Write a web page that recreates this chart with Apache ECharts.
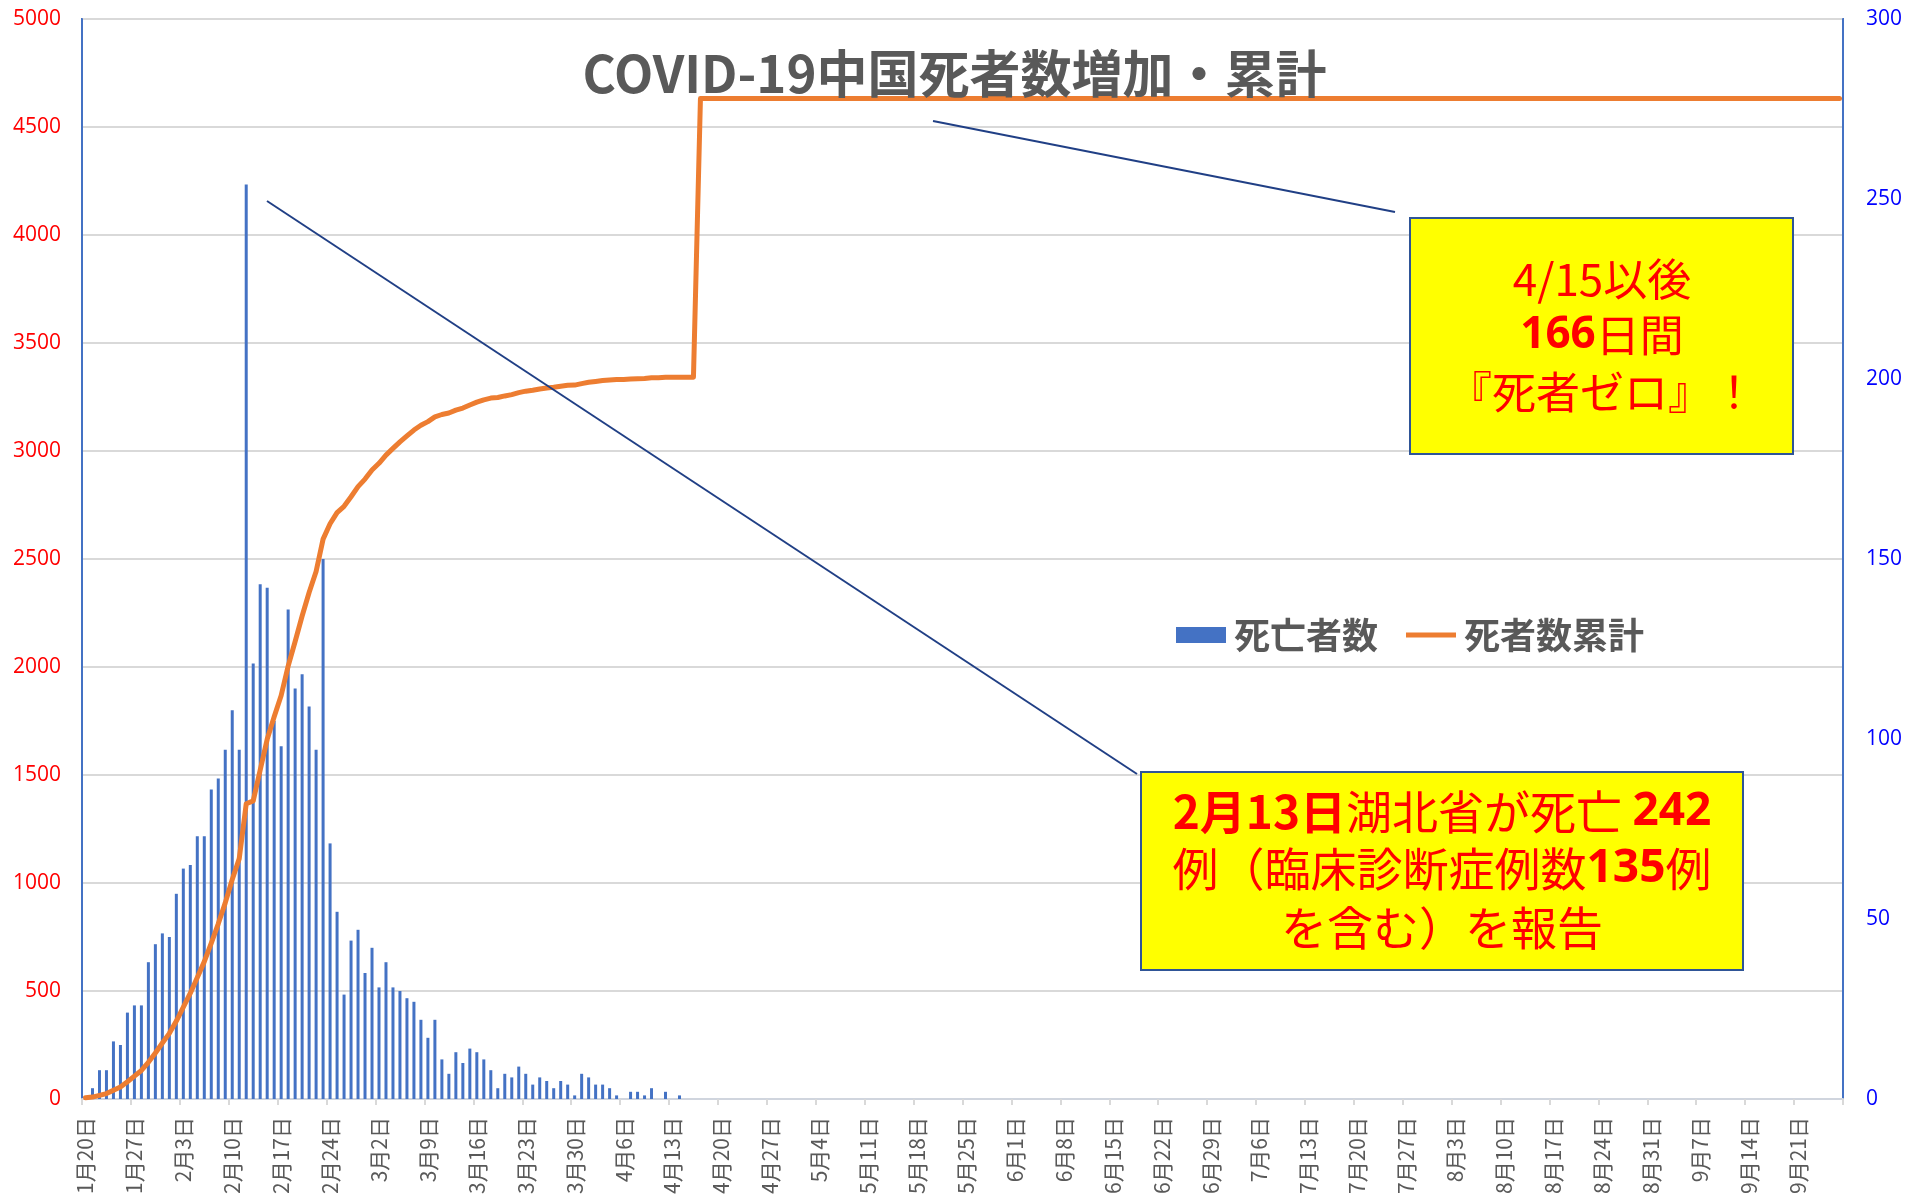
<!DOCTYPE html>
<html lang="ja">
<head>
<meta charset="UTF-8">
<title>COVID-19中国死者数増加・累計</title>
<script src="https://cdn.jsdelivr.net/npm/echarts@6/dist/echarts.min.js"></script>
<style>
  html, body { margin: 0; padding: 0; background: #fff; }
  #main { width: 1909px; height: 1201px; }
</style>
</head>
<body>
<div id="main"></div>
<script type="text/javascript">
// 日付ラベル 1月20日 ～ 9月27日 (2020年)
var monthSpans = [[1, 20, 31], [2, 1, 29], [3, 1, 31], [4, 1, 30], [5, 1, 31],
                  [6, 1, 30], [7, 1, 31], [8, 1, 31], [9, 1, 27]];
var dates = [];
monthSpans.forEach(function (s) {
    for (var d = s[1]; d <= s[2]; d++) dates.push(s[0] + '月' + d + '日');
});

// 死亡者数 (日別) 1/20 ～ 4/16
var dailyDeaths = [
    0, 3, 8, 8, 16, 15, 24, 26, 26, 38, 43, 46,
    45, 57, 64, 65, 73, 73, 86, 89, 97, 108, 97, 254, 121, 143, 142, 105, 98, 136,
    114, 118, 109, 97, 150, 71, 52, 29, 44, 47, 35,
    42, 31, 38, 31, 30, 28, 27, 22, 17, 22, 11, 7, 13, 10, 14, 13, 11, 8, 3, 7,
    6, 9, 7, 4, 6, 5, 3, 5, 4, 1, 7,
    6, 4, 4, 3, 1, 0, 2, 2, 1, 3, 0, 2, 0, 1, 0, 0
];

// 死者数累計 1/20 ～ 4/17
var cumDeaths = [
    6, 9, 17, 25, 41, 56, 80, 106, 132, 170, 213, 259,
    304, 361, 425, 490, 563, 636, 722, 811, 908, 1016, 1113, 1367, 1380, 1523, 1665,
    1770, 1868, 2004, 2118, 2236, 2345, 2442, 2592, 2663, 2715, 2744, 2788, 2835, 2870,
    2912, 2943, 2981, 3012, 3042, 3070, 3097, 3119, 3136, 3158, 3169, 3176, 3189, 3199,
    3213, 3226, 3237, 3245, 3248, 3255, 3261, 3270, 3277, 3281, 3287, 3292, 3295, 3300,
    3304, 3305, 3312,
    3318, 3322, 3326, 3329, 3331, 3331, 3333, 3335, 3336, 3339, 3339, 3341, 3341, 3342,
    3342, 3342, 4632
];
// 4/17以後 9/27まで横ばい
var cumLastDate = '9月27日';
var cumLastValue = 4632;

var leftTicks = { min: 0, max: 5000, interval: 500 };
var rightTicks = { min: 0, max: 300, interval: 50 };

var cumData = cumDeaths.map(function (v, i) { return [dates[i], v]; });
cumData.push([cumLastDate, cumLastValue]);

var FONT = '"Noto Sans CJK JP", "Noto Sans", sans-serif';
var NUMFONT = '"Open Sans", "Noto Sans", sans-serif';

function plain(v) { return String(v); }

var richBox = function (size) {
    return {
        b: { fill: '#FF0000', fontSize: size, fontWeight: 'bold', fontFamily: NUMFONT },
        bj: { fill: '#FF0000', fontSize: size, fontWeight: 'bold', fontFamily: FONT },
        n: { fill: '#FF0000', fontSize: size, fontFamily: FONT }
    };
};

var myChart = echarts.init(document.getElementById('main'));
var option = {
    animation: false,
    title: {
        text: 'COVID-19中国死者数増加・累計',
        left: 'center',
        top: 43,
        textStyle: { fontSize: 51, fontWeight: 'bold', color: '#595959', fontFamily: FONT }
    },
    legend: {
        left: 1171,
        top: 612,
        itemWidth: 50,
        itemHeight: 16,
        itemGap: 28,
        data: [
            { name: '死亡者数', icon: 'rect' },
            { name: '死者数累計', icon: 'path://M0,0H100V10H0Z' }
        ],
        textStyle: { fontSize: 36, fontWeight: 'bold', color: '#595959', fontFamily: FONT, padding: [0, 0, 0, 3] }
    },
    grid: {
        left: 82, right: 66, top: 19, bottom: 102,
        show: true, borderColor: '#4472C4', borderWidth: 2
    },
    xAxis: {
        type: 'category',
        data: dates,
        boundaryGap: true,
        axisLine: { lineStyle: { color: '#D0D5DE', width: 2 } },
        axisTick: { show: true, interval: 6, length: 6, lineStyle: { color: '#D9D9D9', width: 2 } },
        axisLabel: {
            interval: 6, rotate: 90, margin: 18,
            fontSize: 21, color: '#595959', fontFamily: FONT
        },
        splitLine: { show: false }
    },
    yAxis: [
        {
            type: 'value',
            position: 'left',
            min: leftTicks.min, max: leftTicks.max, interval: leftTicks.interval,
            axisLine: { show: true, lineStyle: { color: '#4472C4', width: 2 } },
            axisTick: { show: false },
            axisLabel: { formatter: plain, color: '#FF0000', fontSize: 21, margin: 21, fontFamily: NUMFONT },
            splitLine: { lineStyle: { color: '#D9D9D9', width: 2 } }
        },
        {
            type: 'value',
            position: 'right',
            min: rightTicks.min, max: rightTicks.max, interval: rightTicks.interval,
            axisLine: { show: true, lineStyle: { color: '#4472C4', width: 2 } },
            axisTick: { show: false },
            axisLabel: { formatter: plain, color: '#0000FF', fontSize: 21, margin: 23, fontFamily: NUMFONT },
            splitLine: { show: false }
        }
    ],
    series: [
        {
            name: '死亡者数',
            type: 'bar',
            yAxisIndex: 1,
            barWidth: 3,
            itemStyle: { color: '#4472C4' },
            data: dailyDeaths
        },
        {
            name: '死者数累計',
            type: 'line',
            yAxisIndex: 0,
            symbol: 'none',
            showSymbol: false,
            itemStyle: { color: '#ED7D31' },
            lineStyle: { color: '#ED7D31', width: 5, cap: 'round', join: 'round' },
            data: cumData,
            z: 3
        }
    ],
    graphic: [
        // 引き出し線
        { type: 'line', z: 100, shape: { x1: 267, y1: 201, x2: 1137, y2: 774 }, style: { stroke: '#203F85', lineWidth: 2 } },
        { type: 'line', z: 100, shape: { x1: 933, y1: 121, x2: 1395, y2: 212 }, style: { stroke: '#203F85', lineWidth: 2 } },
        // 4/15以後 ボックス
        { type: 'rect', z: 100, shape: { x: 1410, y: 218, width: 383, height: 236 },
          style: { fill: '#FFFF00', stroke: '#2F5597', lineWidth: 2 } },
        { type: 'text', z: 101, x: 1602, y: 279, style: {
            text: '{n|4/15以後}', align: 'center', verticalAlign: 'middle', rich: richBox(44) } },
        { type: 'text', z: 101, x: 1602, y: 335, style: {
            text: '{b|166}{n|日間}', align: 'center', verticalAlign: 'middle', rich: richBox(44) } },
        { type: 'text', z: 101, x: 1602, y: 392, style: {
            text: '{n|『死者ゼロ』！}', align: 'center', verticalAlign: 'middle', rich: richBox(44) } },
        // 2月13日 ボックス
        { type: 'rect', z: 100, shape: { x: 1141, y: 772, width: 602, height: 198 },
          style: { fill: '#FFFF00', stroke: '#2F5597', lineWidth: 2 } },
        { type: 'text', z: 101, x: 1442, y: 812, style: {
            text: '{bj|2月13日}{n|湖北省が死亡 }{b|242}', align: 'center', verticalAlign: 'middle', rich: richBox(46) } },
        { type: 'text', z: 101, x: 1442, y: 869, style: {
            text: '{n|例（臨床診断症例数}{b|135}{n|例}', align: 'center', verticalAlign: 'middle', rich: richBox(46) } },
        { type: 'text', z: 101, x: 1442, y: 928, style: {
            text: '{n|を含む）を報告}', align: 'center', verticalAlign: 'middle', rich: richBox(46) } }
    ]
};
myChart.setOption(option);
</script>
</body>
</html>
